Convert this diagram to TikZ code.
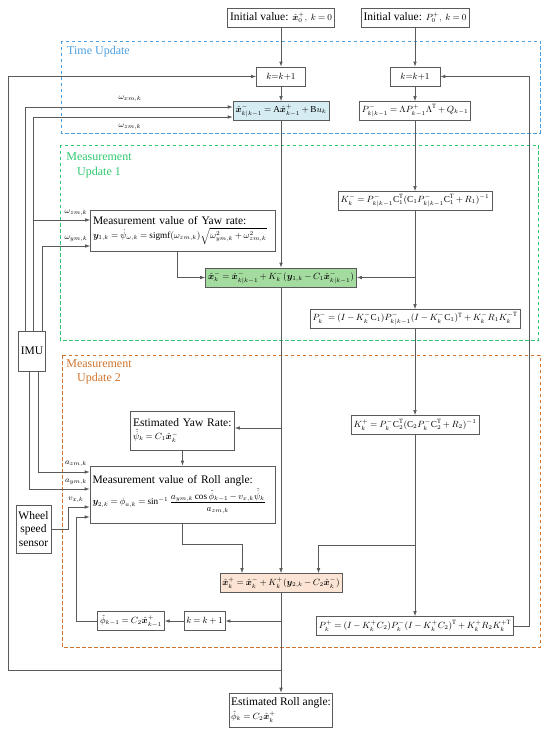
\documentclass[tikz,border=0pt]{standalone}
\usepackage{amsmath}
\usepackage{amssymb}
\usepackage{bm}
\usepackage{fontspec}
\setmainfont{Liberation Serif}
\usetikzlibrary{positioning, arrows.meta}
\definecolor{linegray}{RGB}{90,90,90}
\definecolor{tublue}{RGB}{75,160,225}
\definecolor{mugreen}{RGB}{45,200,110}
\definecolor{muorange}{RGB}{205,115,45}
\definecolor{fillblue}{RGB}{214,236,243}
\definecolor{fillgreen}{RGB}{164,220,160}
\definecolor{fillorange}{RGB}{251,228,212}
% formulas are set a little smaller and tighter than the text
\newcommand{\fml}[1]{{\fontsize{9.2}{11}\selectfont\medmuskip=3mu\thickmuskip=4mu$#1$}}
\tikzset{
x=1pt, y=-1pt, % picture coordinates in pixels, measured from the top left
>={Latex[length=5pt,width=3.6pt]}, % filled arrow heads
every node/.style={font=\fontsize{11.5}{13.5}\selectfont},
box/.style={draw=linegray, fill=white, line width=0.6pt, inner xsep=2.5pt, inner ysep=1.5pt, minimum height=19pt}, % every block
link/.style={draw=linegray, line width=0.75pt}, % connectors
region/.style={line width=0.8pt, dash pattern=on 3.5pt off 2.5pt}, % update stages
stage/.style={align=center, inner sep=0pt, font=\fontsize{12}{14.5}\selectfont},
tag/.style={font=\fontsize{8}{9}\selectfont, inner sep=0.5pt}, % signal names
}

\begin{document}
\begin{tikzpicture}
        \useasboundingbox (0,0) rectangle (550,735);

        % update stages
        \draw[region, tublue] (61,41) rectangle (540,133);
        \draw[region, mugreen] (60,145) rectangle (538,340);
        \draw[region, muorange] (62,355) rectangle (540,647);
        \node[stage, text=tublue, anchor=west] (tu) at (67,52) {Time Update};
        \node[stage, text=mugreen] (mu1) at (99,165.5) {Measurement\\ Update 1};
        \node[stage, text=muorange] (mu2) at (99,372) {Measurement\\ Update 2};

        % state column
        \node[box] (init1) at (281,17.5) {Initial value: \fml{\hat{\bm{x}}_0^+,\ k=0}};
        \node[box, minimum width=49pt] (k1) at (281,76.5) {\fml{k{=}k{+}1}};
        \node[box, fill=fillblue] (xpri) at (281,111) {\fml{\hat{\bm{x}}_{k|k-1}^- = \mathrm{A}\hat{\bm{x}}_{k-1}^+ + \mathrm{B}u_k}};
        \node[box, fill=fillgreen] (xmin) at (281,277.5) {\fml{\hat{\bm{x}}_k^- = \hat{\bm{x}}_{k|k-1}^- + K_k^-(\bm{y}_{1,k} - C_1\hat{\bm{x}}_{k|k-1}^-)}};
        \node[box, fill=fillorange] (xplus) at (281,583) {\fml{\hat{\bm{x}}_k^+ = \hat{\bm{x}}_k^- + K_k^+(\bm{y}_{2,k} - C_2\hat{\bm{x}}_k^-)}};
        \node[box, align=left, inner xsep=1.5pt, minimum height=34pt] (estroll) at (281,710) {Estimated Roll angle:\\ \fml{\hat{\phi}_k = C_2\hat{\bm{x}}_k^+}};

        % covariance column
        \node[box] (init2) at (415,17.5) {Initial value: \fml{P_0^+,\ k=0}};
        \node[box, minimum width=50pt] (k2) at (415,76.5) {\fml{k{=}k{+}1}};
        \node[box] (Ppri) at (415,111) {\fml{P_{k|k-1}^- = \Lambda P_{k-1}^+\Lambda^\mathrm{T} + Q_{k-1}}};
        \node[box] (Kmin) at (415,201) {\fml{K_k^- = P_{k|k-1}^-\mathrm{C}_1^\mathrm{T}(\mathrm{C}_1P_{k|k-1}^-\mathrm{C}_1^\mathrm{T} + R_1)^{-1}}};
        \node[box] (Pmin) at (415,319) {\fml{P_k^- = (I - K_k^-\mathrm{C}_1)P_{k|k-1}^-(I - K_k^-\mathrm{C}_1)^\mathrm{T} + K_k^-R_1K_k^{-\mathrm{T}}}};
        \node[box] (Kplus) at (415,425) {\fml{K_k^+ = P_k^-\mathrm{C}_2^\mathrm{T}(\mathrm{C}_2P_k^-\mathrm{C}_2^\mathrm{T} + R_2)^{-1}}};
        \node[box] (Pplus) at (415,626) {\fml{P_k^+ = (I - K_k^+C_2)P_k^-(I - K_k^+C_2)^\mathrm{T} + K_k^+R_2K_k^{+\mathrm{T}}}};

        % measurements
        \node[box, align=left, text width=180pt, minimum height=41pt] (yaw) at (183,230.5) {Measurement value of Yaw rate:\\ \fml{\bm{y}_{1,k} = \dot{\psi}_{\omega,k} = \mathrm{sigmf}(\omega_{zm,k})\sqrt{\omega_{ym,k}^2 + \omega_{zm,k}^2}}};
        \node[box, align=left, text width=99pt, minimum height=39pt] (estyaw) at (182.5,430.5) {Estimated Yaw Rate:\\ \fml{\hat{\dot{\psi}}_k = C_1\hat{\bm{x}}_k^-}};
        \node[box, align=left, text width=180pt, minimum height=57pt] (roll) at (182.5,494.5) {Measurement value of Roll angle:\\[1pt] \fml{\bm{y}_{2,k} = \phi_{a,k} = \sin^{-1}\dfrac{a_{ym,k}\cos\hat{\phi}_{k-1} - v_{x,k}\hat{\dot{\psi}}_k}{a_{zm,k}}}};
        \node[box] (kk) at (204.5,621) {\fml{k = k + 1}};
        \node[box] (phik) at (131,621) {\fml{\hat{\phi}_{k-1} = C_2\hat{\bm{x}}_{k-1}^+}};

        % sensors
        \node[box, minimum height=40pt] (imu) at (32,351) {IMU};
        \node[box, align=center, minimum height=48pt] (wheel) at (33.5,529) {Wheel\\ speed\\ sensor};

        % branch points
        \coordinate (b1) at (281,428);
        \coordinate (b2) at (415,277.5);
        \coordinate (b3) at (415,545);
        \coordinate (b4) at (281,621);
        \coordinate (b5) at (281,670);
        \coordinate (b6) at (33.5,220);

        % main flow
        \draw[link,->] (init1) -- (k1);
        \draw[link,->] (k1) -- (xpri);
        \draw[link,->] (xpri) -- (xmin);
        \draw[link,->] (xmin) -- (xplus);
        \draw[link,->] (xplus) -- (estroll);
        \draw[link,->] (init2) -- (k2);
        \draw[link,->] (k2) -- (Ppri);
        \draw[link,->] (Ppri) -- (Kmin);
        \draw[link,->] (Kmin) -- (Pmin);
        \draw[link,->] (Pmin) -- (Kplus);
        \draw[link,->] (Kplus) -- (Pplus);

        % gains and measurements into the updates
        \draw[link,->] (b2) -- (b2 -| xmin.east);
        \draw[link,->] ([xshift=-6pt]yaw.south) |- (xmin);
        \draw[link,->] (b1) -- (b1 -| estyaw.east);
        \draw[link,->] (estyaw) -- (roll);
        \draw[link,->] (roll.south) -- (roll.south |- 0,544) -| ([xshift=-39pt]xplus.north);
        \draw[link,->] (b3) -| ([xshift=37.5pt]xplus.north);

        % feedback
        \draw[link,->] (b4) -- (kk);
        \draw[link,->] (kk) -- (phik);
        \draw[link,->] (phik) -| (76,517) -- (roll.west |- 0,517);
        \draw[link,->] (b5) -- (8,670) |- (k1);
        \draw[link,->] (Pplus) -- (529,626) |- (k2);

        % sensor signals
        \draw[link,->] ([xshift=-7pt]imu.north) |- (xpri.west |- 0,107);
        \draw[link,->] ([xshift=1.5pt]imu.north) |- (xpri.west |- 0,117);
        \draw[link,->] (b6) -- (yaw.west |- b6);
        \draw[link,->] ([xshift=10pt]imu.north) |- (yaw.west |- 0,246);
        \draw[link,->] ([xshift=6pt]imu.south) |- (roll.west |- 0,472);
        \draw[link,->] ([xshift=-3pt]imu.south) |- (roll.west |- 0,489);
        \draw[link,->] (wheel) -- (68,529) |- (roll.west |- 0,507);

        \node[tag] (wx) at (130,99) {$\omega_{xm,k}$};
        \node[tag] (wz) at (130,127) {$\omega_{zm,k}$};
        \node[tag] (wz1) at (76,213) {$\omega_{zm,k}$};
        \node[tag] (wy1) at (76,239) {$\omega_{ym,k}$};
        \node[tag] (az) at (76,464) {$a_{zm,k}$};
        \node[tag] (ay) at (76,482) {$a_{ym,k}$};
        \node[tag] (vx) at (76,500) {$v_{x,k}$};
\end{tikzpicture}
\end{document}
